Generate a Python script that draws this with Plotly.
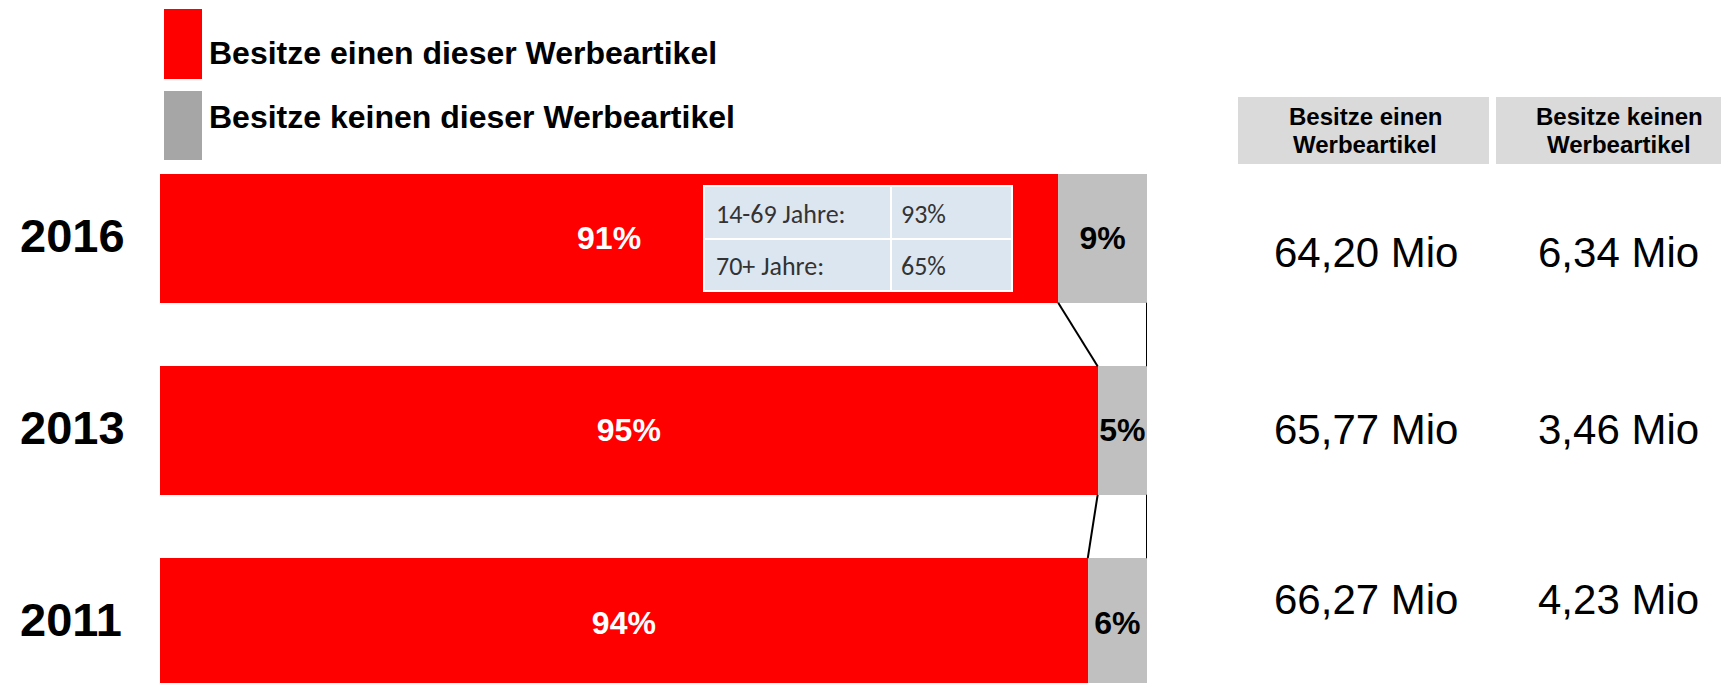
import plotly.graph_objects as go

W, H = 1721, 683

# ---------------- data ----------------
years = ["2011", "2013", "2016"]
share_yes = [94, 95, 91]
share_no = [6, 5, 9]
mio_yes = ["66,27 Mio", "65,77 Mio", "64,20 Mio"]
mio_no = ["4,23 Mio", "3,46 Mio", "6,34 Mio"]
series_names = ["Besitze einen dieser Werbeartikel", "Besitze keinen dieser Werbeartikel"]
table_headers = [["Besitze einen", "Werbeartikel"], ["Besitze keinen", "Werbeartikel"]]
inset_labels = ["14-69 Jahre:", "70+ Jahre:"]
inset_values = ["93%", "65%"]

# ---------------- style ----------------
RED = "#FF0000"
GRAY = "#C0C0C0"
LEG_GRAY = "#A6A6A6"
ARIAL = "Arial, Liberation Sans, sans-serif"
BARGAP = 0.33


def px(x):
    return x / W


def py(y):
    return 1 - y / H


fig = go.Figure()

fig.add_trace(go.Bar(
    y=years, x=share_yes, orientation="h", name=series_names[0],
    marker=dict(color=RED, line=dict(width=0)),
    texttemplate="%{x}%", textposition="inside", insidetextanchor="middle", textangle=0,
    textfont=dict(family=ARIAL, size=32, color="white", weight="bold"),
    showlegend=False, hoverinfo="skip",
))
fig.add_trace(go.Bar(
    y=years, x=share_no, orientation="h", name=series_names[1],
    marker=dict(color=GRAY, line=dict(width=0)),
    texttemplate="%{x}%", textposition="inside", insidetextanchor="middle", textangle=0,
    textfont=dict(family=ARIAL, size=32, color="black", weight="bold"),
    showlegend=False, hoverinfo="skip",
))

shapes = []
annotations = []
half = (1 - BARGAP) / 2

# series lines between bars
for i in range(len(years) - 1):
    upper, lower = i + 1, i
    shapes.append(dict(type="line", xref="x", yref="y",
                       x0=share_yes[upper], y0=upper - half, x1=share_yes[lower], y1=lower + half,
                       line=dict(color="black", width=2)))
    shapes.append(dict(type="line", xref="x", yref="y",
                       x0=share_yes[upper] + share_no[upper], y0=upper - half,
                       x1=share_yes[lower] + share_no[lower], y1=lower + half,
                       line=dict(color="black", width=2)))

# year labels
for idx, yr in enumerate(years):
    annotations.append(dict(x=px(18), xref="paper", y=idx, yref="y", yshift=3,
                            text=yr, showarrow=False, xanchor="left", yanchor="middle",
                            font=dict(family=ARIAL, size=47, color="black", weight="bold")))

# inset table (age split for 2016)
tfont = dict(family="Carlito, Calibri, Lato, sans-serif", size=26, color="#333333")
cols = [(704, 891), (891, 1012)]
rows = [(186, 239), (239, 291)]
text_x = [714, 899]
for r, (y0, y1) in enumerate(rows):
    for c, (x0, x1) in enumerate(cols):
        shapes.append(dict(type="rect", xref="paper", yref="paper",
                           x0=px(x0), x1=px(x1), y0=py(y1), y1=py(y0),
                           fillcolor="#DCE6F1", line=dict(color="white", width=2)))
        txt = inset_labels[r] if c == 0 else inset_values[r]
        annotations.append(dict(x=px(text_x[c]), xref="paper", y=py((y0 + y1) / 2 + 1), yref="paper",
                                text=txt, showarrow=False, xanchor="left", yanchor="middle",
                                font=tfont))

# legend
leg_boxes = [(9, 79, RED), (91, 160, LEG_GRAY)]
leg_text_y = [53, 117]
for (y0, y1, col), ty, name in zip(leg_boxes, leg_text_y, series_names):
    shapes.append(dict(type="rect", xref="paper", yref="paper",
                       x0=px(164), x1=px(202), y0=py(y1), y1=py(y0),
                       fillcolor=col, line=dict(width=0)))
    annotations.append(dict(x=px(207), xref="paper", y=py(ty), yref="paper",
                            text=name, showarrow=False, xanchor="left", yanchor="middle",
                            font=dict(family=ARIAL, size=32, color="black", weight="bold")))

# right-hand table
col_x = [(1238, 1489), (1496, 1721)]
head_cx = [1365, 1619]
for (x0, x1), cx, hdr in zip(col_x, head_cx, table_headers):
    shapes.append(dict(type="rect", xref="paper", yref="paper",
                       x0=px(x0), x1=px(x1), y0=py(164), y1=py(97),
                       fillcolor="#DADADA", line=dict(width=0)))
    for line_txt, ly in zip(hdr, [116, 144]):
        annotations.append(dict(x=px(cx), xref="paper",
                                y=py(ly), yref="paper", text=line_txt, showarrow=False,
                                xanchor="center", yanchor="middle",
                                font=dict(family=ARIAL, size=24, color="black", weight="bold")))

row_y = [599, 429, 252]
for ry, a, b in zip(row_y, mio_yes, mio_no):
    for txt, cx in [(a, 1366), (b, 1618)]:
        annotations.append(dict(x=px(cx), xref="paper", y=py(ry), yref="paper",
                                text=txt, showarrow=False, xanchor="center", yanchor="middle",
                                font=dict(family=ARIAL, size=42, color="black")))

fig.update_layout(
    width=W, height=H,
    margin=dict(l=0, r=0, t=0, b=0),
    paper_bgcolor="white", plot_bgcolor="white",
    barmode="stack", bargap=BARGAP,
    uniformtext=dict(mode="show", minsize=32),
    xaxis=dict(domain=[px(160), px(1147)], range=[0, 100], visible=False, fixedrange=True),
    yaxis=dict(domain=[0, 1], type="category", categoryorder="array", categoryarray=years,
               range=[-0.315, 3.242], visible=False, fixedrange=True),
    shapes=shapes, annotations=annotations,
    showlegend=False,
)

fig.write_html("out.html", config={"displayModeBar": False},
               post_script="document.body.style.margin='0';document.body.style.overflow='hidden';")
